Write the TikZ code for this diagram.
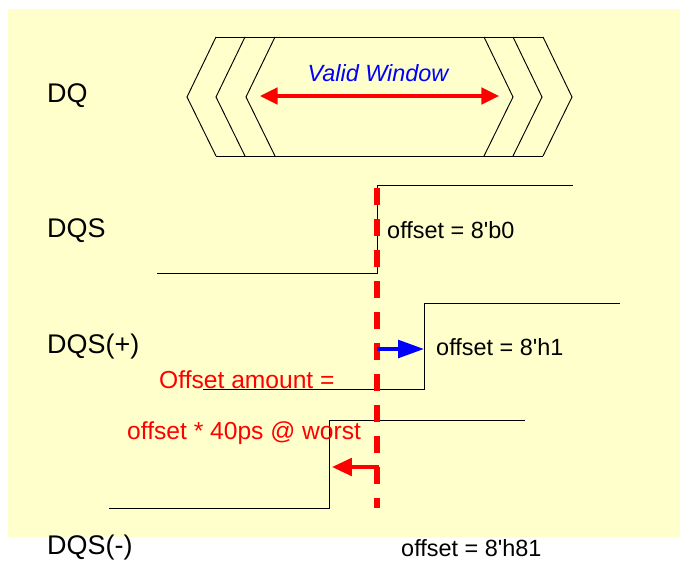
\documentclass[tikz,border=0pt]{standalone}
\usepackage{fontspec}
\setmainfont{Liberation Sans}[Ligatures=TeXOff]
\usetikzlibrary{arrows.meta}
\definecolor{padyellow}{RGB}{255,255,204}

\begin{document}
\begin{tikzpicture}[x=0.03cm,y=-0.03cm,
        sig/.style={anchor=west,inner sep=0pt,font=\fontsize{23}{27}\selectfont},
        note/.style={anchor=west,inner sep=0pt,font=\fontsize{20}{24}\selectfont},
        remark/.style={anchor=west,inner sep=0pt,red,font=\fontsize{21}{25}\selectfont},
        wave/.style={line width=0.8pt}]
        \useasboundingbox (0,0) rectangle (680,560);
        \fill[padyellow] (8,9) rectangle (680,537);

        \node[sig] (dq) at (47,96) {DQ};
        \node[sig] (dqs) at (47,231) {DQS};
        \node[sig] (dqsp) at (47,347) {DQS(+)};
        \node[sig] (dqsm) at (47,548) {DQS(-)};

        \foreach \x in {187,216,246} {
            \draw[wave] (\x+29,37) -- (\x,97) -- (\x+29,156);
            \draw[wave] (\x+297,37) -- (\x+326,97) -- (\x+297,156);
        }
        \draw[wave] (216,37) -- (543,37);
        \draw[wave] (216,156) -- (543,156);
        \coordinate (wl) at (260,96);
        \coordinate (wr) at (499,96);
        \draw[red,line width=3pt,{Triangle[length=15pt,width=14pt]}-{Triangle[length=15pt,width=14pt]}] (wl) -- (wr);
        \node[blue,note,anchor=center,font=\fontsize{20}{24}\selectfont\itshape] (valid) at (378,73) {Valid Window};

        \coordinate (s0) at (377,273);
        \draw[wave] (157,273) -- (s0) -- (377,185) -- (573,185);
        \node[note] (off0) at (387,230) {offset = 8'b0};

        \coordinate (s1) at (424,389);
        \draw[wave] (203,389) -- (s1) -- (424,303) -- (620,303);
        \node[note] (off1) at (436,347) {offset = 8'h1};

        \coordinate (s2) at (329,508);
        \draw[wave] (109,508) -- (s2) -- (329,420) -- (525,420);
        \node[note] (off2) at (401,548) {offset = 8'h81};

        \coordinate (top) at (377,188);
        \coordinate (bot) at (377,508);
        \draw[red,line width=4.3pt,dash pattern=on 14.5pt off 12pt] (top) -- (bot);

        \coordinate (p1) at (377,349);
        \coordinate (q1) at (424,349);
        \draw[blue,line width=3pt,-{Triangle[length=22pt,width=15pt]}] (p1) -- (q1);

        \coordinate (p2) at (379,467);
        \coordinate (q2) at (332,467);
        \draw[red,line width=3pt,-{Triangle[length=17pt,width=15pt]}] (p2) -- (q2);

        \node[remark] (amount) at (159,380) {Offset amount =};
        \node[remark] (worst) at (127,433) {offset * 40ps @ worst};
    \end{tikzpicture}
\end{document}
